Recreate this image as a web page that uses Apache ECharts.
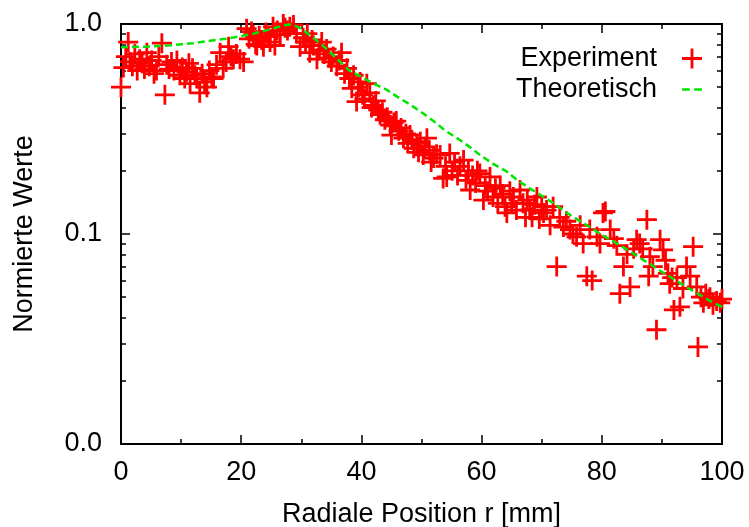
<!DOCTYPE html>
<html>
<head>
<meta charset="utf-8">
<script src="https://cdn.jsdelivr.net/npm/echarts@6/dist/echarts.min.js"></script>
<style>
html,body{margin:0;padding:0;background:#fff;}
#chart{width:749px;height:527px;}
</style>
</head>
<body>
<div id="chart"></div>
<script>
// Experiment data (radial position in mm, normalized value)
const expX = [0.0,0.4,0.8,1.2,1.5,1.9,2.3,2.7,3.1,3.5,3.9,4.3,4.7,5.1,5.5,5.9,6.3,6.8,7.3,7.6,8.0,8.4,8.8,9.3,9.8,10.2,10.6,10.9,11.3,11.5,11.9,12.3,12.6,13.1,13.5,13.9,14.3,14.7,15.1,15.4,15.9,16.5,17.0,17.5,17.9,18.3,18.7,19.2,19.8,20.4,20.9,21.3,21.7,22.0,22.4,22.6,23.0,23.4,23.7,24.1,24.5,24.8,25.3,25.6,26.0,26.5,27.0,27.3,27.7,28.1,28.7,29.2,29.8,30.3,30.7,31.0,31.4,31.8,32.0,32.6,33.0,33.4,33.8,34.2,34.6,35.0,35.3,35.9,36.3,36.7,37.2,37.6,38.0,38.4,38.7,39.2,39.5,39.8,40.2,40.5,40.9,41.4,41.7,42.0,42.4,42.8,43.1,43.5,43.9,44.3,44.8,45.0,45.4,45.8,46.2,46.6,47.0,47.4,47.7,48.1,48.4,48.7,49.2,49.5,49.8,50.3,50.6,50.9,51.3,51.6,52.0,52.5,53.1,53.6,54.0,54.2,54.7,55.1,55.5,56.0,56.4,57.0,57.4,57.8,58.1,58.5,59.0,59.3,59.7,60.3,60.6,61.0,61.4,61.9,62.3,62.7,63.1,63.5,63.9,64.2,64.7,65.0,65.3,65.8,66.4,66.9,67.3,67.6,68.0,68.4,68.8,69.2,69.6,70.0,70.3,70.8,71.4,71.9,72.5,73.0,73.6,74.1,74.7,75.2,75.8,76.4,76.9,77.5,78.0,78.4,79.2,79.7,80.2,80.6,81.4,82.0,82.5,83.0,83.6,84.2,84.7,85.3,85.8,86.3,86.8,87.5,87.8,88.0,88.5,89.1,89.7,90.2,90.6,91.0,91.3,91.7,92.0,92.5,93.0,93.5,94.1,94.7,95.2,95.8,96.0,96.5,96.9,97.3,97.8,98.0,98.5,99.1,99.7,100.0];
const expY = [0.50,0.62,0.70,0.82,0.66,0.63,0.72,0.60,0.68,0.65,0.61,0.73,0.63,0.67,0.58,0.60,0.70,0.81,0.46,0.64,0.61,0.66,0.60,0.67,0.57,0.62,0.55,0.59,0.65,0.52,0.615,0.57,0.55,0.47,0.58,0.53,0.50,0.60,0.56,0.55,0.64,0.73,0.615,0.66,0.78,0.70,0.68,0.72,0.68,0.66,0.95,0.85,0.92,0.89,0.80,0.79,0.88,0.84,0.78,0.91,0.87,0.82,0.97,0.79,0.93,0.89,1.0,0.96,0.93,0.97,0.99,0.90,0.78,0.86,0.82,0.90,0.73,0.84,0.79,0.68,0.75,0.82,0.72,0.76,0.69,0.66,0.70,0.63,0.67,0.73,0.58,0.615,0.55,0.494,0.57,0.427,0.50,0.53,0.46,0.44,0.52,0.47,0.40,0.41,0.43,0.39,0.37,0.38,0.35,0.36,0.33,0.296,0.34,0.345,0.31,0.32,0.286,0.30,0.27,0.296,0.28,0.256,0.27,0.245,0.275,0.238,0.26,0.286,0.25,0.22,0.23,0.24,0.238,0.184,0.21,0.187,0.242,0.20,0.22,0.19,0.21,0.225,0.18,0.20,0.162,0.19,0.175,0.20,0.194,0.145,0.17,0.16,0.187,0.15,0.165,0.14,0.17,0.155,0.135,0.126,0.16,0.14,0.15,0.13,0.162,0.14,0.12,0.145,0.13,0.12,0.138,0.15,0.118,0.135,0.126,0.13,0.11,0.135,0.07,0.12,0.108,0.115,0.105,0.10,0.097,0.11,0.09,0.063,0.105,0.06,0.097,0.09,0.126,0.128,0.105,0.095,0.088,0.052,0.07,0.08,0.056,0.085,0.094,0.09,0.085,0.117,0.063,0.078,0.07,0.035,0.094,0.084,0.075,0.065,0.058,0.062,0.0435,0.062,0.045,0.055,0.07,0.063,0.087,0.056,0.029,0.05,0.047,0.052,0.049,0.05,0.046,0.048,0.047,0.049];

// Theoretical curve
const theoX = [0,2,4,6,8,10,12,14,16,18,20,22,24,26,27,28,29,30,32,34,36,38,40,42,44,46,48,50,52,54,56,58,60,62,64,66,68,70,72,74,76,78,80,82,84,86,88,90,92,94,96,98,100];
const theoY = [0.775,0.778,0.78,0.785,0.79,0.80,0.81,0.825,0.84,0.855,0.875,0.90,0.93,0.965,0.985,0.995,0.98,0.95,0.86,0.77,0.68,0.60,0.56,0.52,0.49,0.45,0.415,0.38,0.345,0.31,0.285,0.26,0.235,0.215,0.20,0.18,0.165,0.152,0.14,0.127,0.117,0.108,0.099,0.092,0.085,0.078,0.072,0.066,0.061,0.056,0.052,0.048,0.045];

// Tick values
const xMajorTicks = [0,20,40,60,80,100];
const yMajorTicks = [0.01,0.1,1];
const yMinorTicks = [0.02,0.03,0.04,0.05,0.06,0.07,0.08,0.09,0.2,0.3,0.4,0.5,0.6,0.7,0.8,0.9];

const FONT = '"Liberation Sans", Arial, Helvetica, sans-serif';
const FS = 27;
const RED = '#ff0000';
const GREEN = '#00e600';
const plusPath = 'path://M8.6,0 H11.4 V8.6 H20 V11.4 H11.4 V20 H8.6 V11.4 H0 V8.6 H8.6 Z';
const dashPath = 'path://M0,0 H7 V2.4 H0 Z M11,0 H18 V2.4 H11 Z';

const expData = expX.map((x, i) => [x, expY[i]]);
const theoData = theoX.map((x, i) => [x, theoY[i]]);

const chart = echarts.init(document.getElementById('chart'), null, {renderer: 'canvas'});

const axisLine = {show: true, lineStyle: {color: '#000', width: 2}};

function yAxisDef(pos, ticks, len, showLabel, extra) {
  return Object.assign({
    type: 'log', logBase: 10, min: 0.01, max: 1, position: pos,
    axisLine: axisLine,
    splitLine: {show: false},
    axisTick: {show: true, inside: true, length: len, customValues: ticks, lineStyle: {color: '#000', width: 1.5}},
    axisLabel: showLabel ? {show: true, customValues: ticks, formatter: v => Number(v).toFixed(1), fontSize: FS, fontFamily: FONT, color: '#000', margin: 19} : {show: false},
  }, extra || {});
}

const option = {
  backgroundColor: '#fff',
  animation: false,
  grid: {left: 121, right: 27, top: 24, bottom: 83, outerBoundsMode: 'none', containLabel: false},
  legend: {
    orient: 'vertical', right: 42, top: 40, align: 'right',
    itemWidth: 20, itemHeight: 20, itemGap: 4,
    textStyle: {fontSize: FS, fontFamily: FONT, color: '#000', padding: [0, 20, 0, 0]},
    data: [
      {name: 'Experiment', icon: plusPath},
      {name: 'Theoretisch', icon: dashPath}
    ]
  },
  xAxis: [
    {
      type: 'value', min: 0, max: 100, interval: 20, position: 'bottom',
      name: 'Radiale Position r [mm]', nameLocation: 'middle', nameGap: 57,
      nameTextStyle: {fontSize: FS, fontFamily: FONT, color: '#000'},
      axisLine: axisLine, splitLine: {show: false},
      axisTick: {show: true, inside: true, length: 9, lineStyle: {color: '#000', width: 1.5}},
      minorTick: {show: true, splitNumber: 2, length: 5, lineStyle: {color: '#000', width: 1.5}},
      minorSplitLine: {show: false},
      axisLabel: {fontSize: FS, fontFamily: FONT, color: '#000', margin: 15, customValues: xMajorTicks}
    },
    {
      type: 'value', min: 0, max: 100, interval: 20, position: 'top',
      axisLine: axisLine, splitLine: {show: false},
      axisTick: {show: true, inside: true, length: 9, lineStyle: {color: '#000', width: 1.5}},
      minorTick: {show: true, splitNumber: 2, length: 5, lineStyle: {color: '#000', width: 1.5}},
      axisLabel: {show: false}
    }
  ],
  yAxis: [
    yAxisDef('left', yMajorTicks, 9, true, {
      name: 'Normierte Werte', nameLocation: 'middle', nameGap: 83, nameRotate: 90,
      nameTextStyle: {fontSize: FS, fontFamily: FONT, color: '#000'}
    }),
    yAxisDef('left', yMinorTicks, 5, false),
    yAxisDef('right', yMajorTicks, 9, false),
    yAxisDef('right', yMinorTicks, 5, false)
  ],
  series: [
    {
      name: 'Experiment', type: 'scatter', data: expData,
      symbol: plusPath, symbolSize: 20, symbolKeepAspect: true,
      itemStyle: {color: RED, opacity: 1}, z: 2
    },
    {
      name: 'Theoretisch', type: 'line', data: theoData,
      showSymbol: false, symbol: 'none', smooth: false,
      lineStyle: {color: GREEN, width: 2.5, type: [7, 4]},
      itemStyle: {color: GREEN}, z: 3
    }
  ]
};
chart.setOption(option);
</script>
</body>
</html>
